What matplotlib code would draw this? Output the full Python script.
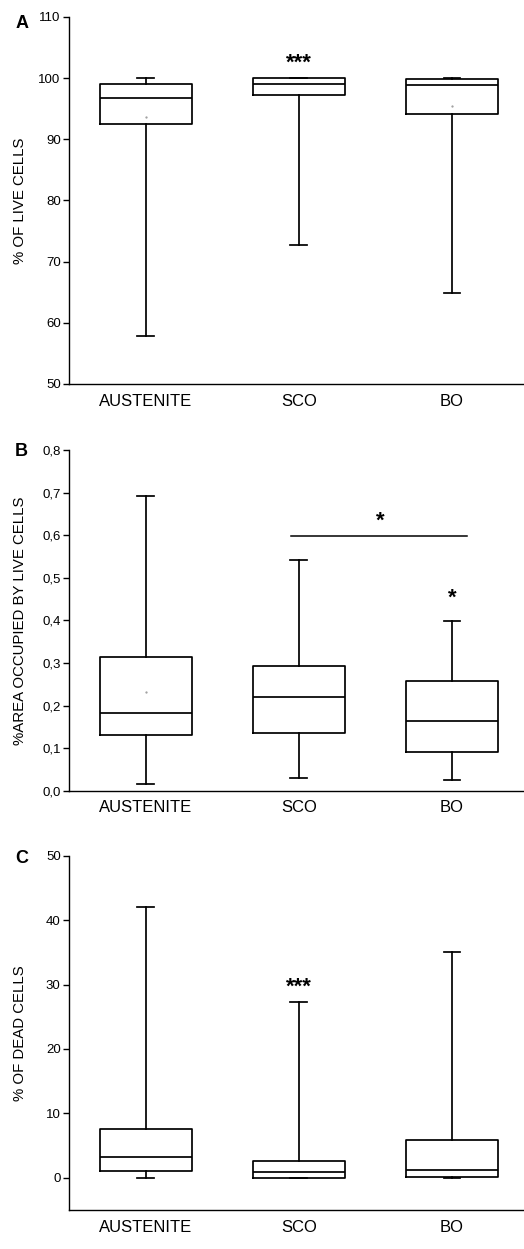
import matplotlib
matplotlib.use("Agg")
import matplotlib.pyplot as plt
from matplotlib.ticker import FuncFormatter

plt.rcParams['font.family'] = ['Liberation Sans', 'DejaVu Sans']

groups = ['AUSTENITE', 'SCO', 'BO']

# panel A: % of live cells
a_min = [57.8, 72.7, 64.9]
a_q1 = [92.5, 97.3, 94.1]
a_med = [96.8, 99.1, 98.9]
a_q3 = [99.0, 100.0, 99.8]
a_max = [100.0, 100.0, 100.0]
a_mean = [93.6, None, 95.4]

# panel B: % area occupied by live cells
b_min = [0.015, 0.031, 0.025]
b_q1 = [0.132, 0.136, 0.091]
b_med = [0.182, 0.220, 0.164]
b_q3 = [0.314, 0.293, 0.257]
b_max = [0.693, 0.542, 0.399]
b_mean = [0.232, None, None]

# panel C: % of dead cells
c_min = [0.0, 0.0, 0.0]
c_q1 = [1.1, 0.0, 0.2]
c_med = [3.2, 0.85, 1.25]
c_q3 = [7.6, 2.6, 5.9]
c_max = [42.1, 27.3, 35.0]
c_mean = [None, None, None]


def make_stats(mins, q1s, meds, q3s, maxs):
    out = []
    for i in range(len(groups)):
        out.append(dict(whislo=mins[i], q1=q1s[i], med=meds[i], q3=q3s[i],
                        whishi=maxs[i], fliers=[], label=groups[i]))
    return out


fig = plt.figure(figsize=(5.24, 12.49), dpi=100)
axA = fig.add_axes([0.1317, 0.6926, 0.8683, 0.2938])
axB = fig.add_axes([0.1317, 0.3669, 0.8683, 0.2728])
axC = fig.add_axes([0.1317, 0.0312, 0.8683, 0.2837])

panels = [
    (axA, make_stats(a_min, a_q1, a_med, a_q3, a_max), a_mean,
     '% OF LIVE CELLS', 'A', 0.982),
    (axB, make_stats(b_min, b_q1, b_med, b_q3, b_max), b_mean,
     '%AREA OCCUPIED BY LIVE CELLS', 'B', 0.997),
    (axC, make_stats(c_min, c_q1, c_med, c_q3, c_max), c_mean,
     '% OF DEAD CELLS', 'C', 0.993),
]

lw = 1.25
for ax, stats, means, ylabel, letter, ly in panels:
    ax.bxp(stats, positions=[1, 2, 3], widths=0.6, showfliers=False,
           boxprops=dict(linewidth=lw, color='black'),
           medianprops=dict(linewidth=lw, color='black'),
           whiskerprops=dict(linewidth=lw, color='black'),
           capprops=dict(linewidth=lw, color='black'),
           capwidths=0.11)
    for i, m in enumerate(means):
        if m is not None:
            ax.plot(i + 1, m, marker='.', markersize=1.2, color='#999999')
    ax.set_xlim(0.5, 3.47)
    ax.spines['top'].set_visible(False)
    ax.spines['right'].set_visible(False)
    ax.spines['left'].set_linewidth(1.0)
    ax.spines['bottom'].set_linewidth(1.0)
    ax.tick_params(axis='x', length=0, labelsize=12, pad=7)
    ax.tick_params(axis='y', length=4, width=1.0, labelsize=9.5, pad=2)
    ax.set_ylabel(ylabel, fontsize=10.8)
    ax.yaxis.set_label_coords(-0.093, 0.5)
    ax.text(-0.09, ly, letter, transform=ax.transAxes, fontsize=13,
            fontweight='bold', ha='right', va='center')

axA.set_ylim(50, 110)
axA.set_yticks([50, 60, 70, 80, 90, 100, 110])
axA.text(2, 102.5, '***', ha='center', va='center', fontsize=16,
         fontweight='bold')

axB.set_ylim(0, 0.8)
axB.set_yticks([0, 0.1, 0.2, 0.3, 0.4, 0.5, 0.6, 0.7, 0.8])
axB.yaxis.set_major_formatter(FuncFormatter(lambda v, p: f'{v:.1f}'.replace('.', ',')))
axB.plot([1.95, 3.1], [0.598, 0.598], color='black', linewidth=1.1)
axB.text(2.53, 0.632, '*', ha='center', va='center', fontsize=16,
         fontweight='bold')
axB.text(3.0, 0.452, '*', ha='center', va='center', fontsize=16,
         fontweight='bold')

axC.set_ylim(-5, 50)
axC.set_yticks([0, 10, 20, 30, 40, 50])
axC.text(2, 29.6, '***', ha='center', va='center', fontsize=16,
         fontweight='bold')

fig.savefig('out.png', dpi=100)
